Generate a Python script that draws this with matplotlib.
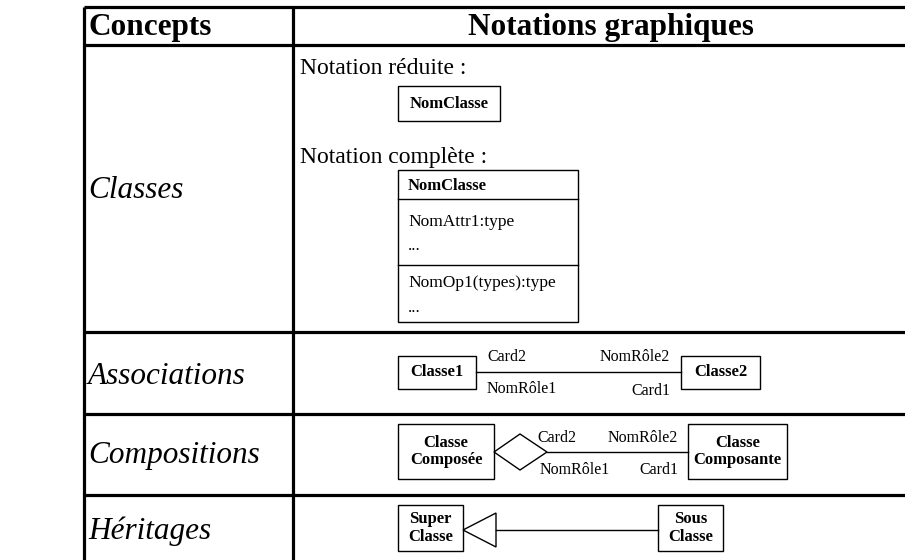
import matplotlib
matplotlib.use("Agg")
import matplotlib.pyplot as plt
from matplotlib.patches import Rectangle, Polygon

plt.rcParams['font.family'] = ['Liberation Serif', 'DejaVu Serif']

# ---- content ----
headers = ["Concepts", "Notations graphiques"]
concepts = ["Classes", "Associations", "Compositions", "Héritages"]
concept_y = [190, 376, 455, 531]
row_lines = [7, 45, 332, 414, 495]
col_lines = [84, 293]

reduced_label = "Notation réduite :"
full_label = "Notation complète :"
class_name = "NomClasse"
attr_lines = ["NomAttr1:type", "..."]
op_lines = ["NomOp1(types):type", "..."]

assoc_classes = ["Classe1", "Classe2"]
assoc_labels_top = ["Card2", "NomRôle2"]
assoc_labels_bot = ["NomRôle1", "Card1"]

comp_classes = ["Classe\nComposée", "Classe\nComposante"]
comp_labels_top = ["Card2", "NomRôle2"]
comp_labels_bot = ["NomRôle1", "Card1"]

inh_classes = ["Super\nClasse", "Sous\nClasse"]

W, H = 905, 560
fig = plt.figure(figsize=(W / 100, H / 100), dpi=100)
ax = fig.add_axes([0, 0, 1, 1])
ax.set_xlim(0, W)
ax.set_ylim(H, 0)
ax.axis('off')

TH = 2.3   # table line width
BL = 1.0   # box line width

for y in row_lines:
    ax.plot([col_lines[0], W], [y, y], color='black', lw=TH, solid_capstyle='butt')
for x in col_lines:
    ax.plot([x, x], [row_lines[0], H], color='black', lw=TH, solid_capstyle='butt')

ax.text(88, 27, headers[0], fontsize=22.5, fontweight='bold', ha='left', va='center')
ax.text(611, 27, headers[1], fontsize=22.5, fontweight='bold', ha='center', va='center')

for name, y in zip(concepts, concept_y):
    ax.text(88, y, name, fontsize=22.5, style='italic', ha='left', va='center')


def box(x0, y0, x1, y1, text=None, fs=11.5, bold=True):
    ax.add_patch(Rectangle((x0, y0), x1 - x0, y1 - y0, fill=False, ec='black', lw=BL))
    if text is not None:
        ax.text((x0 + x1) / 2, (y0 + y1) / 2, text, fontsize=fs,
                fontweight='bold' if bold else 'normal', ha='center', va='center',
                linespacing=1.15)


# Classes row
ax.text(300, 68, reduced_label, fontsize=17, ha='left', va='center')
box(398, 86, 500, 121, class_name, fs=12)
ax.text(300, 157, full_label, fontsize=17, ha='left', va='center')
box(398, 170, 578, 322)
ax.plot([398, 578], [199, 199], color='black', lw=BL)
ax.plot([398, 578], [265, 265], color='black', lw=BL)
ax.text(408, 186, class_name, fontsize=12, fontweight='bold', ha='left', va='center')
ax.text(408, 222, attr_lines[0], fontsize=12.5, ha='left', va='center')
ax.text(408, 246, attr_lines[1], fontsize=12.5, ha='left', va='center')
ax.text(408, 283, op_lines[0], fontsize=12.5, ha='left', va='center')
ax.text(408, 308, op_lines[1], fontsize=12.5, ha='left', va='center')

# Associations row
box(398, 356, 476, 389, assoc_classes[0], fs=12)
box(681, 356, 760, 389, assoc_classes[1], fs=12)
ax.plot([476, 681], [372, 372], color='black', lw=BL)
ax.text(487, 357, assoc_labels_top[0], fontsize=11.5, ha='left', va='center')
ax.text(670, 357, assoc_labels_top[1], fontsize=11.5, ha='right', va='center')
ax.text(487, 389, assoc_labels_bot[0], fontsize=11.5, ha='left', va='center')
ax.text(670, 391, assoc_labels_bot[1], fontsize=11.5, ha='right', va='center')

# Compositions row
box(398, 424, 494, 479, comp_classes[0], fs=12)
box(688, 424, 787, 479, comp_classes[1], fs=12)
ax.add_patch(Polygon([[494, 452], [520, 434], [547, 452], [520, 470]], closed=True,
                     fill=False, ec='black', lw=BL))
ax.plot([547, 688], [452, 452], color='black', lw=BL)
ax.text(537, 438, comp_labels_top[0], fontsize=11.5, ha='left', va='center')
ax.text(678, 438, comp_labels_top[1], fontsize=11.5, ha='right', va='center')
ax.text(540, 470, comp_labels_bot[0], fontsize=11.5, ha='left', va='center')
ax.text(678, 470, comp_labels_bot[1], fontsize=11.5, ha='right', va='center')

# Héritages row
box(398, 505, 463, 551, inh_classes[0], fs=12)
box(658, 505, 723, 551, inh_classes[1], fs=12)
ax.add_patch(Polygon([[463, 530], [496, 513], [496, 547]], closed=True,
                     fill=False, ec='black', lw=BL))
ax.plot([496, 658], [530, 530], color='black', lw=BL)

fig.savefig("out.png", dpi=100, facecolor='white')
